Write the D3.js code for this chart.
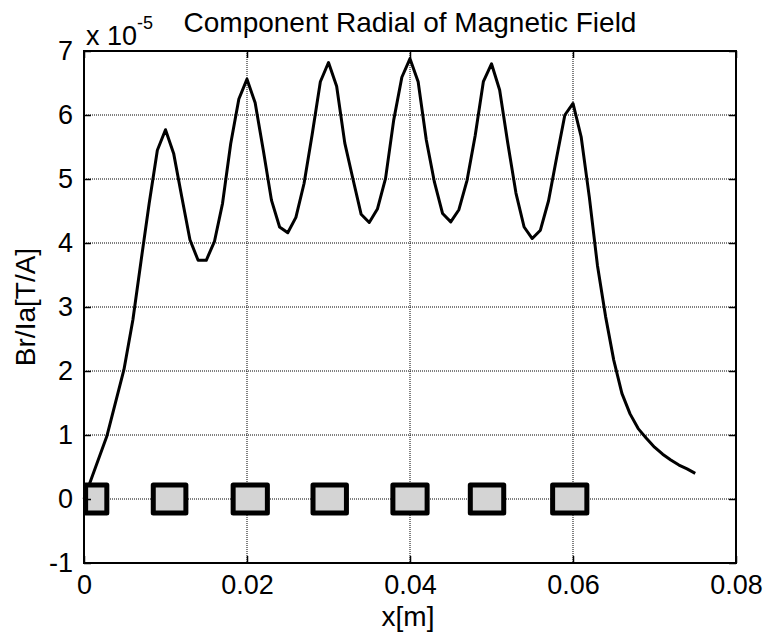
<!DOCTYPE html>
<html>
<head>
<meta charset="utf-8">
<script src="https://cdn.jsdelivr.net/npm/d3@7"></script>
<style>
  html,body{margin:0;padding:0;background:#fff;}
  svg{display:block;font-family:Arial,"Liberation Sans",Helvetica,sans-serif;}
</style>
</head>
<body>
<div id="chart"></div>
<script>
// radial field data (Br/Ia in units of 1e-5 T/A) vs axial position x [m]
const xPos = [0, 0.0028, 0.0049, 0.006, 0.007, 0.008, 0.009, 0.010, 0.011, 0.012,
  0.013, 0.014, 0.015, 0.016, 0.017, 0.018, 0.019, 0.020, 0.021, 0.022,
  0.023, 0.024, 0.025, 0.026, 0.027, 0.028, 0.029, 0.030, 0.031, 0.032,
  0.033, 0.034, 0.035, 0.036, 0.037, 0.038, 0.039, 0.040, 0.041, 0.042,
  0.043, 0.044, 0.045, 0.046, 0.047, 0.048, 0.049, 0.050, 0.051, 0.052,
  0.053, 0.054, 0.055, 0.056, 0.057, 0.058, 0.059, 0.060, 0.061, 0.062,
  0.063, 0.064, 0.065, 0.066, 0.067, 0.068, 0.069, 0.070, 0.071, 0.072,
  0.073, 0.074, 0.075];
const brVals = [0, 0.98, 2.02, 2.8, 3.72, 4.62, 5.45, 5.77, 5.40, 4.72,
  4.05, 3.73, 3.73, 4.02, 4.62, 5.55, 6.25, 6.56, 6.19, 5.45,
  4.67, 4.25, 4.16, 4.40, 4.93, 5.70, 6.52, 6.82, 6.45, 5.56,
  5.0, 4.45, 4.32, 4.53, 5.01, 5.92, 6.59, 6.88, 6.52, 5.61,
  4.95, 4.46, 4.33, 4.52, 4.98, 5.68, 6.52, 6.80, 6.39, 5.56,
  4.78, 4.25, 4.07, 4.20, 4.66, 5.34, 6.0, 6.18, 5.66, 4.72,
  3.65, 2.85, 2.17, 1.65, 1.33, 1.10, 0.95, 0.81, 0.70, 0.61,
  0.53, 0.47, 0.40];

// coil cross-sections drawn along the axis
const coilStart = [0.0002, 0.0085, 0.0183, 0.0281, 0.0379, 0.0474, 0.0575];
const coilEnd   = [0.0028, 0.0125, 0.0225, 0.0322, 0.0421, 0.0515, 0.0617];
const coilHalf  = 0.22;

const xTicks = [0, 0.02, 0.04, 0.06, 0.08];
const yTicks = [-1, 0, 1, 2, 3, 4, 5, 6, 7];

const W = 766, H = 632;
const MG = {t:51, r:30, b:69, l:84};
const iW = W-MG.l-MG.r, iH = H-MG.t-MG.b;
const FONT = "Arial,'Liberation Sans',Helvetica,sans-serif";

const svg = d3.select("#chart").append("svg").attr("width",W).attr("height",H);
const g = svg.append("g").attr("transform",`translate(${MG.l},${MG.t})`);

const xSc = d3.scaleLinear().domain([0,0.08]).range([0,iW]);
const ySc = d3.scaleLinear().domain([-1,7]).range([iH,0]);

// dotted grid
g.append("g").selectAll("line").data(yTicks.slice(1,-1)).join("line")
  .attr("x1",0).attr("x2",iW).attr("y1",d=>ySc(d)).attr("y2",d=>ySc(d))
  .attr("stroke","#000").attr("stroke-width",1).attr("stroke-dasharray","1,1");
g.append("g").selectAll("line").data(xTicks.slice(1,-1)).join("line")
  .attr("y1",0).attr("y2",iH).attr("x1",d=>xSc(d)).attr("x2",d=>xSc(d))
  .attr("stroke","#000").attr("stroke-width",1).attr("stroke-dasharray","1,1");

// field curve
const line = d3.line().x((d,i)=>xSc(xPos[i])).y(d=>ySc(d));
g.append("path").datum(brVals)
  .attr("d",line).attr("fill","none").attr("stroke","#000")
  .attr("stroke-width",3).attr("stroke-linejoin","round");

// coils
g.append("g").selectAll("rect").data(coilStart).join("rect")
  .attr("x",d=>xSc(d))
  .attr("width",(d,i)=>xSc(coilEnd[i])-xSc(d))
  .attr("y",ySc(coilHalf))
  .attr("height",ySc(-coilHalf)-ySc(coilHalf))
  .attr("fill","#d4d4d4").attr("stroke","#000").attr("stroke-width",5)
  .attr("stroke-linejoin","round");

// axes with inward ticks
const fmtX = d=> d===0 ? "0" : d3.format(".2f")(d);
const fmtY = d=> String(d);   // plain hyphen for -1
function styleAxis(sel){
  sel.select(".domain").remove();
  sel.selectAll(".tick line").attr("stroke","#000").attr("stroke-width",1.5);
  sel.selectAll(".tick text").attr("fill","#000").attr("font-size",27).attr("font-family",FONT);
}
g.append("g").attr("transform",`translate(0,${iH})`)
  .call(d3.axisBottom(xSc).tickValues(xTicks).tickSize(-7).tickPadding(12).tickFormat(fmtX))
  .call(styleAxis);
g.append("g")
  .call(d3.axisTop(xSc).tickValues(xTicks).tickSize(-7).tickFormat(""))
  .call(styleAxis);
g.append("g")
  .call(d3.axisLeft(ySc).tickValues(yTicks).tickSize(-7).tickPadding(11).tickFormat(fmtY))
  .call(styleAxis);
g.append("g").attr("transform",`translate(${iW},0)`)
  .call(d3.axisRight(ySc).tickValues(yTicks).tickSize(-7).tickFormat(""))
  .call(styleAxis);

// box
g.append("rect").attr("x",0).attr("y",0).attr("width",iW).attr("height",iH)
  .attr("fill","none").attr("stroke","#000").attr("stroke-width",2);

// labels
svg.append("text").attr("x",MG.l+iW/2).attr("y",32).attr("text-anchor","middle")
  .attr("font-size",28).attr("fill","#000").text("Component Radial of Magnetic Field");
svg.append("text").attr("x",MG.l+iW/2-2).attr("y",626).attr("text-anchor","middle")
  .attr("font-size",28).attr("fill","#000").text("x[m]");
svg.append("text").attr("transform",`translate(35,${MG.t+iH/2}) rotate(-90)`)
  .attr("text-anchor","middle").attr("font-size",28).attr("fill","#000").text("Br/Ia[T/A]");
const ex = svg.append("text").attr("x",86).attr("y",45).attr("font-size",27).attr("fill","#000");
ex.append("tspan").text("x 10");
ex.append("tspan").attr("dy",-16).attr("font-size",18).text("-5");
</script>
</body>
</html>
